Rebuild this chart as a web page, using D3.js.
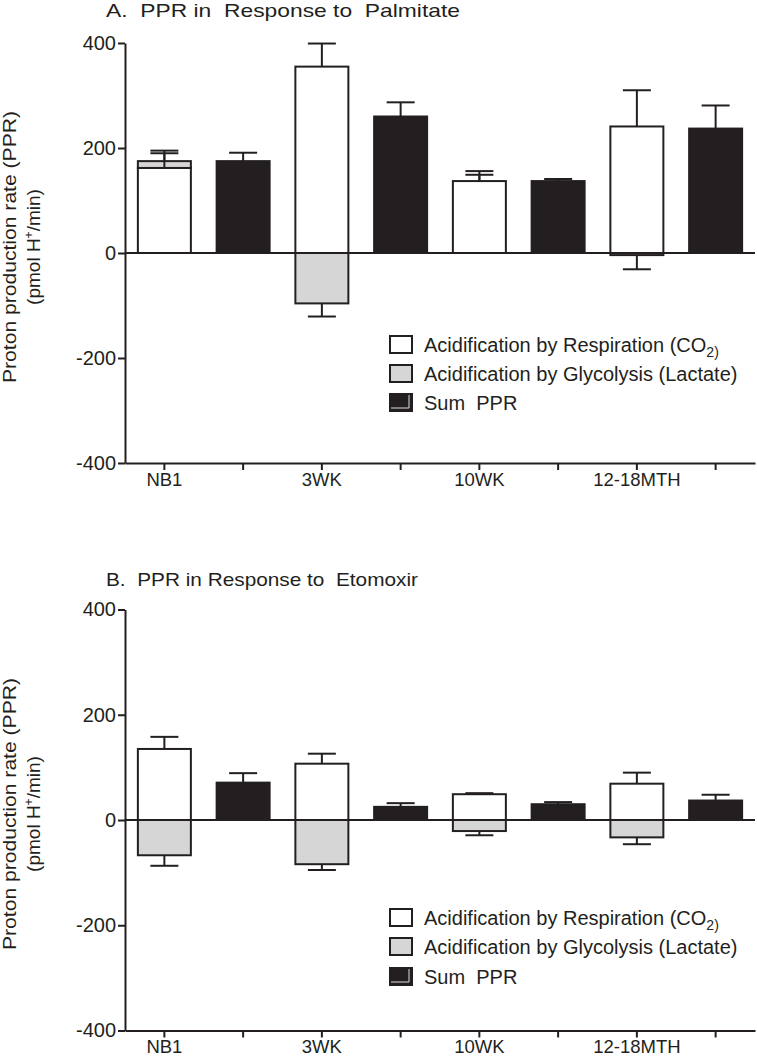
<!DOCTYPE html>
<html><head><meta charset="utf-8">
<script src="https://cdn.jsdelivr.net/npm/d3@7"></script>
<style>
body{margin:0;background:#fff}
text{font-family:"Liberation Sans",Arial,Helvetica,sans-serif;fill:#231f20}
</style>
</head><body>
<svg id="chart" width="757" height="1056"></svg>
<script>
// ---------- data ----------
const categories = ["NB1", "3WK", "10WK", "12-18MTH"];
const yTickValues = [-400, -200, 0, 200, 400];
const legendLabels = ["Acidification by Respiration (CO", "Acidification by Glycolysis (Lactate)", "Sum  PPR"];

// Panel A: PPR in response to palmitate (mean, SEM)
const respA    = [162, 355, 137, 241];
const respSemA = [28, 44, 12, 69];
const glycA    = [13, -96, 0, -4];
const glycSemA = [20, 25, 19, 27];
const sumA     = [175, 260, 137, 237];
const sumSemA  = [16, 27, 4, 44];

// Panel B: PPR in response to etomoxir (mean, SEM)
const respB    = [135, 107, 49, 69];
const respSemB = [23, 19, 2, 21];
const glycB    = [-67, -84, -21, -33];
const glycSemB = [20, 11, 8, 13];
const sumB     = [71, 25, 30, 37];
const sumSemB  = [18, 7, 4, 11];

// ---------- drawing ----------
const INK = "#231f20", GRAY = "#d6d6d6";
const svg = d3.select("#chart");

const x = d3.scaleBand().domain(d3.range(8)).range([125, 755])
  .paddingInner(0.327).paddingOuter(0.1635);

function panel(cfg) {
  const g = svg.append("g");
  const y = d3.scaleLinear().domain([-400, 400]).range(cfg.yRange);

  // title
  g.append("text").attr("x", 106).attr("y", cfg.titleY)
    .style("white-space", "pre").attr("font-size", 19)
    .attr("textLength", cfg.titleLen).attr("lengthAdjust", "spacingAndGlyphs")
    .text(cfg.title);

  const bw = x.bandwidth();
  const cap = 14;
  function errBar(cx, from, to) {
    g.append("line").attr("x1", cx).attr("x2", cx).attr("y1", y(from)).attr("y2", y(to))
      .attr("stroke", INK).attr("stroke-width", 2);
    g.append("line").attr("x1", cx - cap).attr("x2", cx + cap).attr("y1", y(to)).attr("y2", y(to))
      .attr("stroke", INK).attr("stroke-width", 2);
  }
  function rect(slot, v0, v1, fill) {
    g.append("rect").attr("x", x(slot)).attr("width", bw)
      .attr("y", y(Math.max(v0, v1))).attr("height", Math.abs(y(v0) - y(v1)))
      .attr("fill", fill).attr("stroke", INK).attr("stroke-width", 2);
  }

  categories.forEach((c, i) => {
    const s0 = 2 * i, s1 = 2 * i + 1;
    const cx0 = x(s0) + bw / 2, cx1 = x(s1) + bw / 2;
    const r = cfg.resp[i], gl = cfg.glyc[i];
    rect(s0, 0, r, "#fff");
    if (gl >= 0) rect(s0, r, r + gl, GRAY);
    else rect(s0, 0, gl, GRAY);
    errBar(cx0, r, r + cfg.respSem[i]);
    if (gl >= 0) errBar(cx0, r + gl, r + gl + cfg.glycSem[i]);
    else errBar(cx0, gl, gl - cfg.glycSem[i]);
    rect(s1, 0, cfg.sum[i], INK);
    errBar(cx1, cfg.sum[i], cfg.sum[i] + cfg.sumSem[i]);
  });

  // zero line
  g.append("line").attr("x1", 125).attr("x2", 755).attr("y1", y(0)).attr("y2", y(0))
    .attr("stroke", INK).attr("stroke-width", 2);

  // y axis
  const ya = g.append("g").attr("transform", "translate(125,0)")
    .call(d3.axisLeft(y).tickValues(yTickValues).tickSize(7).tickSizeOuter(0).tickPadding(2)
      .tickFormat(d => String(d)));
  ya.selectAll("path,line").attr("stroke", INK).attr("stroke-width", 2);
  ya.selectAll("text").attr("font-size", 20).attr("font-family", null).attr("fill", INK);

  // x axis
  const xa = g.append("g").attr("transform", `translate(0,${y(-400)})`)
    .call(d3.axisBottom(x).tickValues(d3.range(8)).tickSize(7).tickSizeOuter(0).tickPadding(cfg.xPad)
      .tickFormat(i => i % 2 === 0 ? categories[i / 2] : ""));
  xa.selectAll("path,line").attr("stroke", INK).attr("stroke-width", 2);
  xa.selectAll("text").attr("font-size", 18.5).attr("font-family", null).attr("fill", INK);

  // y label
  const cy = cfg.labelCY;
  g.append("text").attr("transform", `translate(16,${cy}) rotate(-90)`)
    .attr("text-anchor", "middle").attr("font-size", 19)
    .attr("textLength", 272).attr("lengthAdjust", "spacingAndGlyphs")
    .text("Proton production rate (PPR)");
  const l2 = g.append("text").attr("transform", `translate(40,${cy}) rotate(-90)`)
    .attr("text-anchor", "middle").attr("font-size", 19);
  l2.append("tspan").text("(pmol H");
  l2.append("tspan").attr("font-size", 12).attr("dy", -7).text("+");
  l2.append("tspan").attr("dy", 7).text("/min)");

  // legend
  const fills = ["#fff", GRAY, INK];
  cfg.legendRows.forEach((ly, k) => {
    g.append("rect").attr("x", 390).attr("y", ly - 16).attr("width", 22).attr("height", 17)
      .attr("fill", fills[k]).attr("stroke", INK).attr("stroke-width", 2);
    if (k === 2) {
      g.append("polyline").attr("points", `${409},${ly - 15} ${409},${ly - 2} ${391},${ly - 2}`)
        .attr("fill", "none").attr("stroke", "#ddd").attr("stroke-width", 1);
    }
    const t = g.append("text").attr("x", 424).attr("y", ly).attr("font-size", 20)
      .style("white-space", "pre");
    t.append("tspan").text(legendLabels[k]);
    if (k === 0) t.append("tspan").attr("font-size", 14).attr("dy", 5).text("2)");
  });
}

panel({
  title: "A.  PPR in  Response to  Palmitate", titleY: 17, titleLen: 354, xPad: 3,
  yRange: [463, 43], labelCY: 247, legendRows: [352, 381, 410],
  resp: respA, respSem: respSemA, glyc: glycA, glycSem: glycSemA, sum: sumA, sumSem: sumSemA
});
panel({
  title: "B.  PPR in Response to  Etomoxir", titleY: 586, titleLen: 312, xPad: 2,
  yRange: [1030.5, 609.5], labelCY: 814, legendRows: [925, 954, 984],
  resp: respB, respSem: respSemB, glyc: glycB, glycSem: glycSemB, sum: sumB, sumSem: sumSemB
});
</script>
</body></html>
